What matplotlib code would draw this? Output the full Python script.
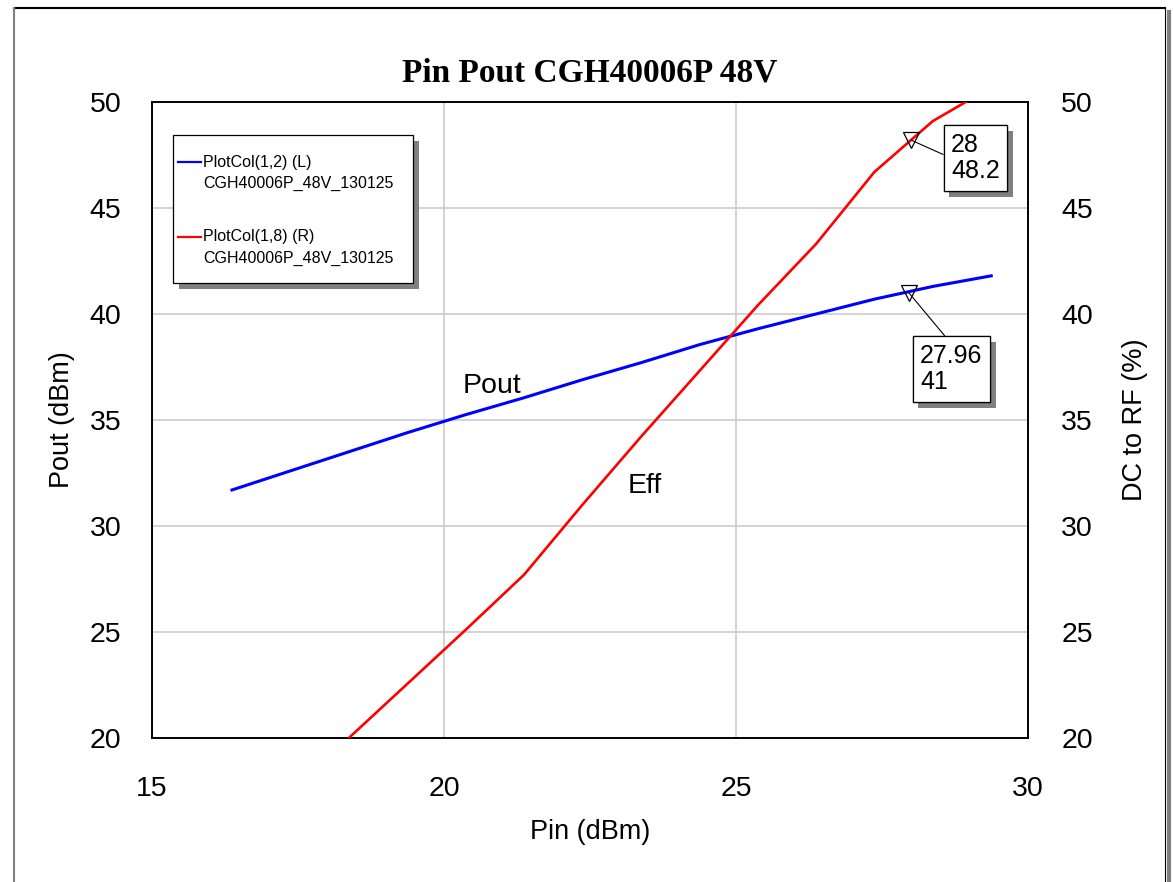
import matplotlib
matplotlib.use('Agg')
from matplotlib import pyplot as plt
from matplotlib.patches import Rectangle
from matplotlib.lines import Line2D
import matplotlib.patheffects as pe

plt.rcParams['font.family'] = ['Liberation Sans', 'DejaVu Sans']

# 数据
pin = [16.37, 17.37, 18.37, 19.37, 20.37, 21.37, 22.37, 23.37, 24.37, 25.37, 26.37, 27.37, 28.37, 29.37]
pout = [31.7, 32.6, 33.5, 34.4, 35.25, 36.05, 36.9, 37.7, 38.55, 39.3, 40.0, 40.7, 41.3, 41.8]
eff = [14.6, 17.3, 20.0, 22.55, 25.1, 27.7, 31.0, 34.2, 37.3, 40.4, 43.3, 46.7, 49.1, 50.7]

x_ticks = [15, 20, 25, 30]
y_ticks = [20, 25, 30, 35, 40, 45, 50]

mark_pout = (27.96, 41)
mark_eff = (28, 48.2)

W, H = 1173, 882
fig = plt.figure(figsize=(W / 100, H / 100), dpi=100)
ax = fig.add_axes([152 / W, 1 - 738 / H, 876 / W, 636 / H])
ax2 = ax.twinx()

ax.plot(pin, pout, color='#0000ff', lw=2.2, zorder=3)
ax2.plot(pin, eff, color='#ff0000', lw=1.9, zorder=3)

ax.set_xlim(15, 30)
ax.set_ylim(20, 50)
ax2.set_ylim(20, 50)
ax.set_xticks(x_ticks)
ax.set_yticks(y_ticks)
ax2.set_yticks(y_ticks)
ax.grid(True, color='#c8c8c8', lw=1.1)
ax.set_axisbelow(True)
ax.tick_params(axis='y', length=0, pad=22, labelsize=20.5)
ax.tick_params(axis='x', length=0, pad=27, labelsize=20.5)
ax2.tick_params(axis='y', length=0, pad=24, labelsize=20.5)
for a in (ax, ax2):
    for s in a.spines.values():
        s.set_color('black')
        s.set_linewidth(1.2)

ax.set_xlabel('Pin (dBm)', fontsize=19.5, va='center')
ax.xaxis.set_label_coords(0.5, -0.148)
ax.set_ylabel('Pout (dBm)', fontsize=19.5, va='center')
ax.yaxis.set_label_coords(-0.1027, 0.5)
ax2.set_ylabel('DC to RF (%)', fontsize=19.5, va='center', rotation=90)
ax2.yaxis.set_label_coords(1.122, 0.5)

ax.text(0.5, 1.045, 'Pin Pout CGH40006P 48V', transform=ax.transAxes, ha='center', va='center',
        fontsize=24, fontweight='bold', family=['Liberation Serif', 'DejaVu Serif'])

ax.text(20.82, 36.6, 'Pout', fontsize=20.5, ha='center', va='center')
ax2.text(23.44, 31.9, 'Eff', fontsize=20.5, ha='center', va='center')

# 标记点和数值框
ax.plot([mark_pout[0]], [mark_pout[1]], marker='v', ms=12, mfc='none', mec='black', mew=0.9, zorder=4)
ax2.plot([mark_eff[0]], [mark_eff[1]], marker='v', ms=12, mfc='none', mec='black', mew=0.9, zorder=4)

shadow = [pe.withSimplePatchShadow(offset=(4.3, -4.3), shadow_rgbFace='#808080', alpha=1), pe.Normal()]

t1 = ax2.annotate('%g\n%g' % mark_eff, xy=mark_eff, xytext=((951 - 152) / 876, (738 - 158) / 636),
                  textcoords='axes fraction', ha='left', va='center', fontsize=18, linespacing=1.15,
                  bbox=dict(boxstyle='square,pad=0.3', fc='white', ec='black', lw=0.9),
                  arrowprops=dict(arrowstyle='-', color='black', lw=0.8, relpos=(0, 0.5),
                                  shrinkA=0, shrinkB=0), zorder=5)
t1.get_bbox_patch().set_path_effects(shadow)

t2 = ax.annotate('%g\n%g' % mark_pout, xy=mark_pout, xytext=((920 - 152) / 876, (738 - 369) / 636),
                 textcoords='axes fraction', ha='left', va='center', fontsize=18, linespacing=1.15,
                 bbox=dict(boxstyle='square,pad=0.3', fc='white', ec='black', lw=0.9),
                 arrowprops=dict(arrowstyle='-', color='black', lw=0.8, relpos=(0.5, 1),
                                 shrinkA=0, shrinkB=0), zorder=5)
t2.get_bbox_patch().set_path_effects(shadow)

# 图例 (手动画)
def axf(px, py):
    return (px - 152) / 876, (738 - py) / 636

lx0, ly0 = axf(173, 283)
lx1, ly1 = axf(413, 135)
ax2.add_patch(Rectangle((lx0 + 6 / 876, ly0 - 6 / 636), lx1 - lx0, ly1 - ly0, transform=ax.transAxes,
                        fc='#808080', ec='none', zorder=6, clip_on=False))
ax2.add_patch(Rectangle((lx0, ly0), lx1 - lx0, ly1 - ly0, transform=ax.transAxes,
                        fc='white', ec='black', lw=0.9, zorder=7, clip_on=False))
legend_items = [('PlotCol(1,2) (L)', '#0000ff', 162), ('PlotCol(1,8) (R)', '#ff0000', 237)]
for lab, col, py in legend_items:
    hx0, hy = axf(178, py)
    hx1, _ = axf(201, py)
    ax2.add_line(Line2D([hx0, hx1], [hy, hy], transform=ax.transAxes, color=col, lw=1.6, zorder=8))
    tx, _ = axf(203, py)
    ax2.text(tx, hy, lab, transform=ax.transAxes, fontsize=11.5, ha='left', va='center', zorder=8)
    _, hy2 = axf(203, py + 21)
    ax2.text(tx, hy2, 'CGH40006P_48V_130125', transform=ax.transAxes, fontsize=11.5, ha='left',
             va='center', zorder=8)

# 外框
fig.add_artist(Line2D([14 / W, 1165 / W], [1 - 8 / H, 1 - 8 / H], color='black', lw=1.5))
fig.add_artist(Line2D([14 / W, 14 / W], [1 - 8 / H, 0], color='#808080', lw=1.5))
fig.add_artist(Line2D([1165 / W, 1165 / W], [1 - 8 / H, 0], color='black', lw=0.8))
fig.add_artist(Line2D([1168.5 / W, 1168.5 / W], [1 - 12 / H, 0], color='#808080', lw=3))

fig.savefig('out.png', dpi=100)
